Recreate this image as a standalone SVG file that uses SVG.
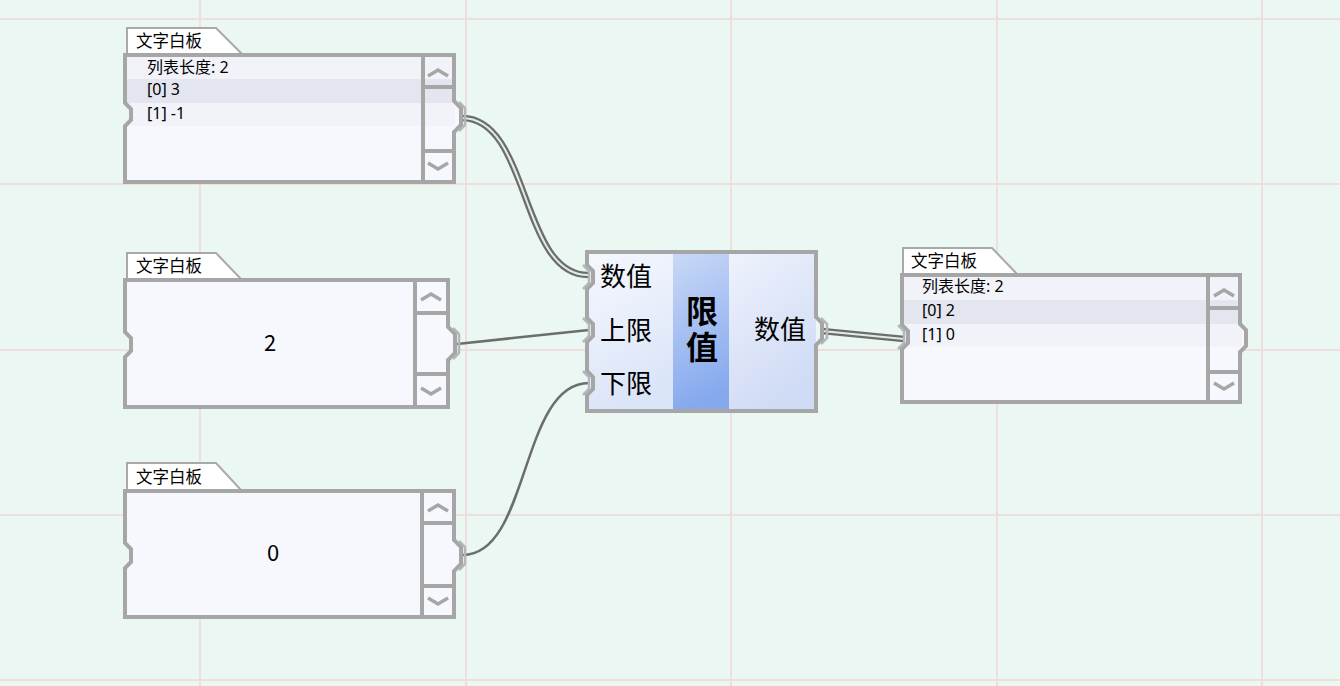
<svg xmlns="http://www.w3.org/2000/svg" width="1340" height="686" viewBox="0 0 1340 686">
<style>
text{font-family:"Noto Sans CJK SC","Noto Sans",sans-serif;fill:#000}
.grid{stroke:#eedfdc;stroke-width:2}
.tab{fill:#fff;stroke:#a9a9a9;stroke-width:2}
.tabt{font-size:16.5px}
.rowt{font-size:16px;font-family:"Noto Sans","Noto Sans CJK SC",sans-serif}
.body{fill:#f7f8fd}
.edge{fill:none;stroke:#a6a6a6;stroke-width:4;stroke-linejoin:miter}
.sb{fill:none;stroke:#a6a6a6;stroke-width:4}
.chev{fill:none;stroke:#a6a6a6;stroke-width:3.5}
.brk{fill:none;stroke:#b3b7bb;stroke-width:2.5}
.r1{fill:#f2f2f9}
.r2{fill:#e3e6ee}
.wire{fill:none;stroke:#6b6e6b;stroke-width:2.5}
.lo{fill:none;stroke:#6b6e6b;stroke-width:6.5}
.li{fill:none;stroke:#e3ebe6;stroke-width:2}
.port{font-size:26px}
.big{font-size:32px;font-weight:bold}
</style>
<defs>
<path id="o1" d="M125,55 H454 V101 L461,108 V125 L454,132 V182 H125 V126 L131,120 V109 L125,103 Z"/>
<path id="o2" d="M125,280 H448 V327 L455,334 V353 L448,360 V407 H125 V357 L131,351 V338 L125,332 Z"/>
<path id="o3" d="M125,491 H454 V540 L461,547 V564 L454,571 V617 H125 V568 L131,562 V549 L125,543 Z"/>
<path id="o4" d="M902,275 H1240 V324 L1246,330 V346 L1240,352 V402 H902 V349 L908,343 V331 L902,325 Z"/>
<path id="om" d="M587,252 H816 V317 L822,323 V339 L816,345 V411 H587 V395 L593,389 V377 L587,371 V342 L593,336 V324 L587,318 V289 L593,283 V271 L587,265 Z"/>
<clipPath id="c1"><use href="#o1"/></clipPath>
<clipPath id="c4"><use href="#o4"/></clipPath>
<clipPath id="cm"><use href="#om"/></clipPath>
<linearGradient id="gl" x1="0" y1="0" x2="0.3" y2="1"><stop offset="0" stop-color="#f6f8fe"/><stop offset="1" stop-color="#dbe5f8"/></linearGradient>
<linearGradient id="gm" x1="0" y1="0" x2="0.2" y2="1"><stop offset="0" stop-color="#cad9f6"/><stop offset="1" stop-color="#86a9ee"/></linearGradient>
<linearGradient id="gr" x1="0" y1="0" x2="0.4" y2="1"><stop offset="0" stop-color="#eef2fc"/><stop offset="1" stop-color="#d0dbf5"/></linearGradient>
</defs>
<rect width="1340" height="686" fill="#ebf7f2"/>
<g id="grid">
<line class="grid" x1="200" y1="0" x2="200" y2="686"/>
<line class="grid" x1="466" y1="0" x2="466" y2="686"/>
<line class="grid" x1="731" y1="0" x2="731" y2="686"/>
<line class="grid" x1="997" y1="0" x2="997" y2="686"/>
<line class="grid" x1="1262" y1="0" x2="1262" y2="686"/>
<line class="grid" x1="0" y1="19" x2="1340" y2="19"/>
<line class="grid" x1="0" y1="184" x2="1340" y2="184"/>
<line class="grid" x1="0" y1="350" x2="1340" y2="350"/>
<line class="grid" x1="0" y1="515" x2="1340" y2="515"/>
<line class="grid" x1="0" y1="680" x2="1340" y2="680"/>
</g>
<g id="connectors">
<path class="lo" d="M462,118 C530,118 520,275 588,275"/>
<path class="li" d="M462,118 C530,118 520,275 588,275"/>
<path class="wire" d="M457,344 L589,330"/>
<path class="wire" d="M463,555 C530,555 520,383 589,383"/>
<path class="lo" d="M822,331 L904,339"/>
<path class="li" d="M822,331 L904,339"/>
</g>
<g id="node1">
<polygon class="tab" points="127,54 127,28 216,28 242,54"/>
<text class="tabt" x="136" y="47">文字白板</text>
<use href="#o1" class="body"/>
<g clip-path="url(#c1)">
<rect class="r1" x="125" y="56" width="330" height="23"/>
<rect class="r2" x="125" y="79" width="330" height="24"/>
<rect class="r1" x="125" y="103" width="330" height="23"/>
</g>
<text class="rowt" x="147" y="73">列表长度: 2</text>
<text class="rowt" x="147" y="95">[0] 3</text>
<text class="rowt" x="147" y="119">[1] -1</text>
<line class="sb" x1="423" y1="55" x2="423" y2="182"/>
<line class="sb" x1="423" y1="87" x2="454" y2="87"/>
<line class="sb" x1="423" y1="151" x2="454" y2="151"/>
<polyline class="chev" points="428,76 438,70 448,76"/>
<polyline class="chev" points="428,163 438,169 448,163"/>
<use href="#o1" class="edge"/>
<polyline class="brk" points="459,102 465,108 465,125 459,131"/>
</g>
<g id="node2">
<polygon class="tab" points="127,279 127,253 216,253 241,279"/>
<text class="tabt" x="136" y="272">文字白板</text>
<use href="#o2" class="body"/>
<text x="270" y="351" font-size="22" text-anchor="middle">2</text>
<line class="sb" x1="415" y1="280" x2="415" y2="407"/>
<line class="sb" x1="415" y1="313" x2="448" y2="313"/>
<line class="sb" x1="415" y1="374" x2="448" y2="374"/>
<polyline class="chev" points="421,300 431,294 441,300"/>
<polyline class="chev" points="421,388 431,394 441,388"/>
<use href="#o2" class="edge"/>
<polyline class="brk" points="453,328 459,334 459,353 453,359"/>
</g>
<g id="node3">
<polygon class="tab" points="127,490 127,463 216,463 241,490"/>
<text class="tabt" x="136" y="483">文字白板</text>
<use href="#o3" class="body"/>
<text x="273" y="561" font-size="22" text-anchor="middle">0</text>
<line class="sb" x1="422" y1="491" x2="422" y2="617"/>
<line class="sb" x1="422" y1="523" x2="454" y2="523"/>
<line class="sb" x1="422" y1="586" x2="454" y2="586"/>
<polyline class="chev" points="428,511 438,505 448,511"/>
<polyline class="chev" points="428,598 438,604 448,598"/>
<use href="#o3" class="edge"/>
<polyline class="brk" points="459,541 465,547 465,564 459,570"/>
</g>
<g id="node4">
<g clip-path="url(#cm)">
<rect x="587" y="252" width="86" height="159" fill="url(#gl)"/>
<rect x="673" y="252" width="56" height="159" fill="url(#gm)"/>
<rect x="729" y="252" width="87" height="159" fill="url(#gr)"/>
</g>
<text class="port" x="600" y="286">数值</text>
<text class="port" x="600" y="340">上限</text>
<text class="port" x="600" y="393">下限</text>
<text class="big" x="702" y="323" text-anchor="middle">限<tspan x="702" y="359">值</tspan></text>
<text class="port" x="780" y="339" text-anchor="middle">数值</text>
<use href="#om" class="edge"/>
<polyline class="brk" points="583,265 589,271 589,283 583,289"/>
<polyline class="brk" points="583,318 589,324 589,336 583,342"/>
<polyline class="brk" points="583,371 589,377 589,389 583,395"/>
<polyline class="brk" points="821,318 827,324 827,338 821,344"/>
</g>
<g id="node5">
<polygon class="tab" points="903,274 903,248 992,248 1017,274"/>
<text class="tabt" x="911" y="267">文字白板</text>
<use href="#o4" class="body"/>
<g clip-path="url(#c4)">
<rect class="r1" x="902" y="276" width="340" height="24"/>
<rect class="r2" x="902" y="300" width="340" height="24"/>
<rect class="r1" x="902" y="324" width="340" height="23"/>
</g>
<text class="rowt" x="922" y="292">列表长度: 2</text>
<text class="rowt" x="922" y="316">[0] 2</text>
<text class="rowt" x="922" y="340">[1] 0</text>
<line class="sb" x1="1208" y1="275" x2="1208" y2="402"/>
<line class="sb" x1="1208" y1="308" x2="1240" y2="308"/>
<line class="sb" x1="1208" y1="372" x2="1240" y2="372"/>
<polyline class="chev" points="1214,296 1224,290 1234,296"/>
<polyline class="chev" points="1214,383 1224,389 1234,383"/>
<use href="#o4" class="edge"/>
<polyline class="brk" points="898,325 904,331 904,343 898,349"/>
</g>
</svg>
